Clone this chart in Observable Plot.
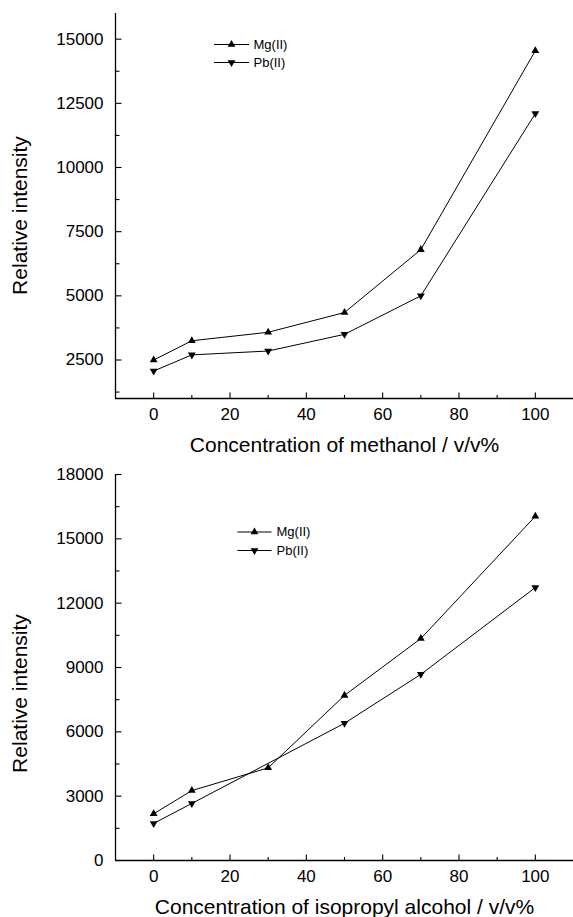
<!DOCTYPE html>
<html>
<head>
<meta charset="utf-8">
<script src="https://cdn.jsdelivr.net/npm/d3@7"></script>
<script src="https://cdn.jsdelivr.net/npm/@observablehq/plot@0.6"></script>
<style>
  html, body { margin: 0; padding: 0; background: #fff; }
  #wrap { width: 573px; }
  #wrap svg { display: block; }
</style>
</head>
<body>
<div id="wrap"></div>
<script>
// ---- data ----
const concentration = [0, 10, 30, 50, 70, 100];
const mgMethanol = [2500, 3250, 3580, 4350, 6800, 14550];
const pbMethanol = [2070, 2700, 2850, 3500, 5000, 12100];

const concentrationMgIso = [0, 10, 30, 50, 70, 100];
const mgIsopropanol = [2180, 3260, 4320, 7700, 10350, 16050];
const concentrationPbIso = [0, 10, 50, 70, 100];
const pbIsopropanol = [1730, 2660, 6400, 8680, 12730];

const xTicks = [0, 20, 40, 60, 80, 100];
const xMinorTicks = [10, 30, 50, 70, 90];
const yTicksTop = [2500, 5000, 7500, 10000, 12500, 15000];
const yMinorTop = [1250, 3750, 6250, 8750, 11250, 13750];
const yTicksBottom = [0, 3000, 6000, 9000, 12000, 15000, 18000];
const yMinorBottom = [1500, 4500, 7500, 10500, 13500, 16500];

const seriesNames = ["Mg(II)", "Pb(II)"];
const xLabelTop = "Concentration of methanol / v/v%";
const xLabelBottom = "Concentration of isopropyl alcohol / v/v%";
const yLabel = "Relative intensity";

// ---- symbols ----
const triDown = {
  draw(ctx, size) {
    const y = -Math.sqrt(size / (Math.sqrt(3) * 3));
    ctx.moveTo(0, -2 * y);
    ctx.lineTo(Math.sqrt(3) * y, y);
    ctx.lineTo(-Math.sqrt(3) * y, y);
    ctx.closePath();
  }
};
const tickUp = (len) => ({ draw(ctx) { ctx.moveTo(0, 0); ctx.lineTo(0, -len); } });
const tickRight = (len) => ({ draw(ctx) { ctx.moveTo(0, 0); ctx.lineTo(len, 0); } });
const hSeg = (len) => ({ draw(ctx) { ctx.moveTo(-len / 2, 0); ctx.lineTo(len / 2, 0); } });

const FONT = "'Liberation Sans', Arial, Helvetica, sans-serif";

function chart(opts) {
  const {height, marginTop, marginBottom, yDomain, yTicks, yMinor,
         mgX, mgY, pbX, pbY, xLabel, yLabelDy, legend} = opts;
  const mg = mgX.map((x, i) => ({x, y: mgY[i]}));
  const pb = pbX.map((x, i) => ({x, y: pbY[i]}));
  const ML = 115;
  const leg = [
    {name: seriesNames[0], sym: "triangle", dy: legend.y1},
    {name: seriesNames[1], sym: triDown, dy: legend.y2}
  ];
  return Plot.plot({
    width: 573,
    height,
    marginLeft: ML,
    marginRight: 0,
    marginTop,
    marginBottom,
    style: {fontFamily: FONT, fontSize: "17px", color: "black", background: "white"},
    x: {domain: [-10, 110], axis: null},
    y: {domain: yDomain, axis: null},
    marks: [
      // axis lines
      Plot.ruleY([yDomain[0]], {stroke: "black", strokeWidth: 1.3}),
      Plot.ruleX([-10], {stroke: "black", strokeWidth: 1.3}),
      // inward ticks
      Plot.dot(xTicks, {x: d => d, frameAnchor: "bottom", symbol: tickUp(6), fill: "none", stroke: "black", strokeWidth: 1.1}),
      Plot.dot(xMinorTicks, {x: d => d, frameAnchor: "bottom", symbol: tickUp(3.5), fill: "none", stroke: "black", strokeWidth: 1.1}),
      Plot.dot(yTicks, {y: d => d, frameAnchor: "left", symbol: tickRight(6), fill: "none", stroke: "black", strokeWidth: 1.1}),
      Plot.dot(yMinor, {y: d => d, frameAnchor: "left", symbol: tickRight(4), fill: "none", stroke: "black", strokeWidth: 1.1}),
      // tick labels
      Plot.axisX({ticks: xTicks, tickSize: 0, tickPadding: 9, label: null, fontSize: 17, tickFormat: d => String(d)}),
      Plot.axisY({ticks: yTicks, tickSize: 0, tickPadding: 12, label: null, fontSize: 17, tickFormat: d => String(d)}),
      // axis titles
      Plot.text([xLabel], {text: d => d, frameAnchor: "bottom", dy: 47, fontSize: 21, textAnchor: "middle", lineAnchor: "middle", fill: "black"}),
      Plot.text([yLabel], {text: d => d, frameAnchor: "left", dx: -95, dy: yLabelDy, rotate: -90, fontSize: 21, textAnchor: "middle", lineAnchor: "middle", fill: "black"}),
      // data
      Plot.line(mg, {x: "x", y: "y", stroke: "black", strokeWidth: 1}),
      Plot.line(pb, {x: "x", y: "y", stroke: "black", strokeWidth: 1}),
      Plot.dot(mg, {x: "x", y: "y", symbol: "triangle", r: 2.9, fill: "black", stroke: "none"}),
      Plot.dot(pb, {x: "x", y: "y", symbol: triDown, r: 2.9, fill: "black", stroke: "none"})
    ].concat(leg.flatMap(d => [
      Plot.dot([d], {frameAnchor: "top-left", dx: legend.lineX - ML, dy: d.dy - marginTop, symbol: hSeg(legend.lineLen), fill: "none", stroke: "black", strokeWidth: 1}),
      Plot.dot([d], {frameAnchor: "top-left", dx: legend.triX - ML, dy: d.dy - marginTop, symbol: d.sym, r: 2.9, fill: "black", stroke: "none"}),
      Plot.text([d], {text: "name", frameAnchor: "top-left", dx: legend.textX - ML, dy: d.dy - marginTop, textAnchor: "start", lineAnchor: "middle", fontSize: 13, fill: "black"})
    ]))
  });
}

const wrap = document.getElementById("wrap");
wrap.appendChild(chart({
  height: 460, marginTop: 13, marginBottom: 62,
  yDomain: [1000, 16000], yTicks: yTicksTop, yMinor: yMinorTop,
  mgX: concentration, mgY: mgMethanol, pbX: concentration, pbY: pbMethanol,
  xLabel: xLabelTop, yLabelDy: 9.5,
  legend: {lineX: 231, lineLen: 35, triX: 231, textX: 253, y1: 44, y2: 62}
}));
wrap.appendChild(chart({
  height: 457, marginTop: 14, marginBottom: 57,
  yDomain: [0, 18000], yTicks: yTicksBottom, yMinor: yMinorBottom,
  mgX: concentrationMgIso, mgY: mgIsopropanol, pbX: concentrationPbIso, pbY: pbIsopropanol,
  xLabel: xLabelBottom, yLabelDy: 26,
  legend: {lineX: 254, lineLen: 34, triX: 254, textX: 276, y1: 71.5, y2: 90}
}));
</script>
</body>
</html>
